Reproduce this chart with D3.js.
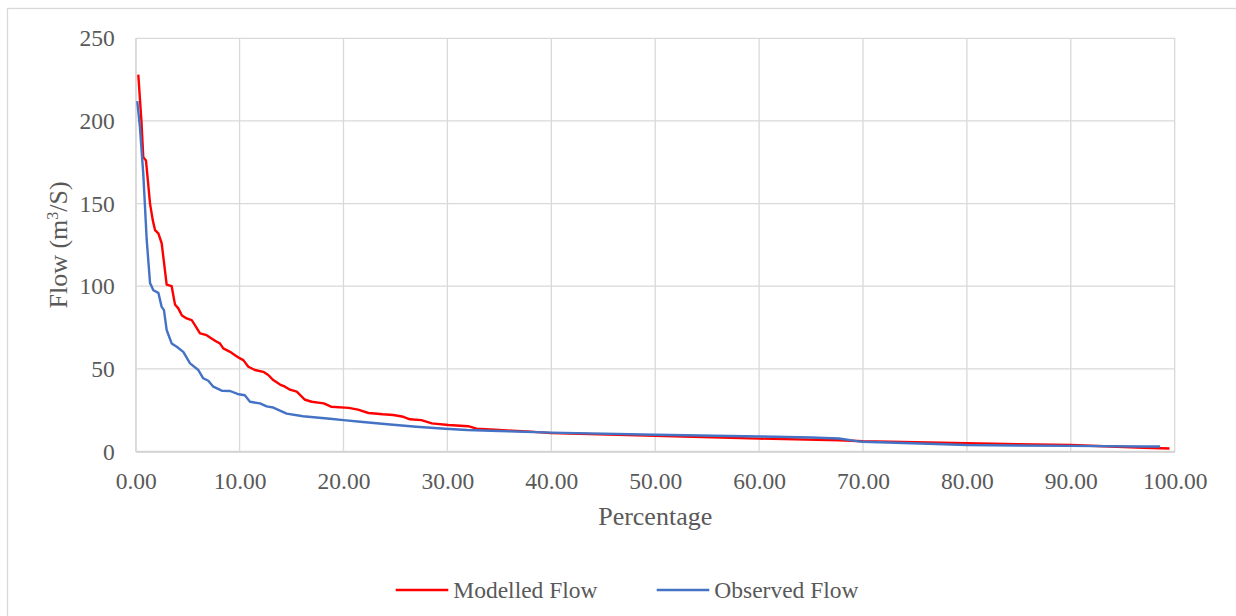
<!DOCTYPE html>
<html>
<head>
<meta charset="utf-8">
<script src="https://cdn.jsdelivr.net/npm/d3@7"></script>
<style>
  html, body { margin: 0; padding: 0; background: #fff; }
  svg { display: block; }
  text { font-family: "Liberation Serif", "Times New Roman", serif; fill: #595959; }
</style>
</head>
<body>
<svg id="chart" width="1236" height="616"></svg>
<script>
// ---- data ----
const modelledPct = [0.25,0.55,0.73,0.99,1.38,1.64,1.86,2.18,2.5,2.98,3.46,3.78,4.1,4.43,4.9,5.39,5.7,6.19,6.83,7.3,7.8,8.1,8.43,9.08,9.56,10.04,10.36,10.84,11.48,12.28,12.76,13.24,13.89,14.37,14.85,15.5,16.3,16.94,18.1,18.8,20.5,21.4,22.4,23.8,24.8,25.76,26.4,27.5,28.5,30.1,32.0,32.8,35.0,38.0,40.0,50.0,60.0,67.7,70.0,76.3,80.0,90.0,97.0,99.5];
const modelledFlow = [228,200,178,176,150,140,134,132,126,101,100,89,86.6,82.5,80.5,79.5,76.5,71.5,70.4,68.4,66.4,65.4,62.4,60.3,58.3,56.3,55.3,51.3,49.3,48.2,46.3,43.2,40.5,39.2,37.4,36.2,31.3,30.1,29.1,27.1,26.4,25.3,23.3,22.5,22.1,21.0,19.5,19.0,17.0,16.0,15.3,13.8,13.0,12.0,11.1,9.5,7.8,6.8,6.2,5.5,5.0,3.9,2.3,1.8];

const observedPct = [0.15,0.41,0.73,1.06,1.38,1.7,2.18,2.5,2.72,2.98,3.46,3.95,4.58,5.23,6.03,6.5,6.99,7.47,8.28,9.08,9.8,10.5,11.0,11.96,12.6,13.24,14.53,16.1,18.7,20.0,21.6,24.5,27.0,29.8,31.9,35.0,40.0,50.0,60.0,65.0,67.7,69.4,70.0,76.3,80.0,90.0,97.0,98.6];
const observedFlow = [212,196,168,128,102,97.6,96,87.5,85.5,73.5,65.4,63.4,60.3,53.3,49.3,44.3,42.8,39.2,36.8,36.6,34.8,34.0,30.1,29.1,27.3,26.6,22.9,21.3,19.8,19.0,18.0,16.3,15.0,13.8,13.0,12.4,11.4,10.1,9.1,8.5,7.9,6.3,5.9,4.7,3.9,3.4,3.0,3.0];

const xTicks = [0,10,20,30,40,50,60,70,80,90,100];
const xTickLabels = ["0.00","10.00","20.00","30.00","40.00","50.00","60.00","70.00","80.00","90.00","100.00"];
const yTicks = [0,50,100,150,200,250];
const yTickLabels = ["0","50","100","150","200","250"];

const seriesNames = ["Modelled Flow","Observed Flow"];
const seriesColors = ["#FF0000","#4472C4"];

// ---- layout ----
const svg = d3.select("#chart");
const plot = {left: 135.7, right: 1174.7, top: 38.3, bottom: 451.5};

// outer chart border
svg.append("rect")
  .attr("x", 7.5).attr("y", 8.5)
  .attr("width", 1240).attr("height", 640)
  .attr("fill", "#fff").attr("stroke", "#D9D9D9").attr("stroke-width", 1.3);

const x = d3.scaleLinear().domain([0,100]).range([plot.left, plot.right]);
const y = d3.scaleLinear().domain([0,250]).range([plot.bottom, plot.top]);

// gridlines
const grid = svg.append("g");
grid.selectAll("line.v").data(xTicks).join("line")
  .attr("x1", d => x(d)).attr("x2", d => x(d))
  .attr("y1", plot.top).attr("y2", plot.bottom)
  .attr("stroke", "#D9D9D9").attr("stroke-width", 1.3);
grid.selectAll("line.h").data(yTicks).join("line")
  .attr("x1", plot.left).attr("x2", plot.right)
  .attr("y1", d => y(d)).attr("y2", d => y(d))
  .attr("stroke", "#D9D9D9").attr("stroke-width", 1.3);

// axes (labels only, via d3 axes)
const xAxis = d3.axisBottom(x).tickValues(xTicks)
  .tickFormat((d,i) => xTickLabels[i]).tickSize(0).tickPadding(21);
const gx = svg.append("g").attr("transform", `translate(0,${plot.bottom})`).call(xAxis);
gx.select(".domain").attr("stroke", "#D0D0D0").attr("stroke-width", 1.3);
gx.selectAll("text").style("font-family", '"Liberation Serif", serif')
  .style("font-size", "23.5px").attr("fill", "#595959");

const yAxis = d3.axisLeft(y).tickValues(yTicks)
  .tickFormat((d,i) => yTickLabels[i]).tickSize(0).tickPadding(21);
const gy = svg.append("g").attr("transform", `translate(${plot.left},0)`).call(yAxis);
gy.select(".domain").attr("stroke", "#D9D9D9").attr("stroke-width", 1.3);
gy.selectAll("text").style("font-family", '"Liberation Serif", serif')
  .style("font-size", "23.5px").attr("fill", "#595959");

// axis titles
svg.append("text")
  .attr("x", (plot.left + plot.right)/2).attr("y", 525)
  .attr("text-anchor", "middle").style("font-size", "26px")
  .text("Percentage");

const yt = svg.append("text")
  .attr("transform", `translate(67,${(plot.top+plot.bottom)/2}) rotate(-90)`)
  .attr("text-anchor", "middle").style("font-size", "26px");
yt.append("tspan").text("Flow (m");
yt.append("tspan").attr("dy", -9).style("font-size", "16px").text("3");
yt.append("tspan").attr("dy", 9).text("/S)");

// lines
const line = d3.line().x(d => x(d[0])).y(d => y(d[1]));
const modelled = modelledPct.map((p,i) => [p, modelledFlow[i]]);
const observed = observedPct.map((p,i) => [p, observedFlow[i]]);

svg.append("path").datum(modelled)
  .attr("d", line).attr("fill", "none")
  .attr("stroke", seriesColors[0]).attr("stroke-width", 2.4)
  .attr("stroke-linejoin", "round");
svg.append("path").datum(observed)
  .attr("d", line).attr("fill", "none")
  .attr("stroke", seriesColors[1]).attr("stroke-width", 2.4)
  .attr("stroke-linejoin", "round");

// legend
const legendX = [395.7, 656.7];
const leg = svg.append("g");
seriesNames.forEach((name, i) => {
  leg.append("line")
    .attr("x1", legendX[i]).attr("x2", legendX[i] + 52.6)
    .attr("y1", 590).attr("y2", 590)
    .attr("stroke", seriesColors[i]).attr("stroke-width", 2.4);
  leg.append("text")
    .attr("x", legendX[i] + 57.6).attr("y", 598)
    .style("font-size", "23.5px")
    .text(name);
});
</script>
</body>
</html>
